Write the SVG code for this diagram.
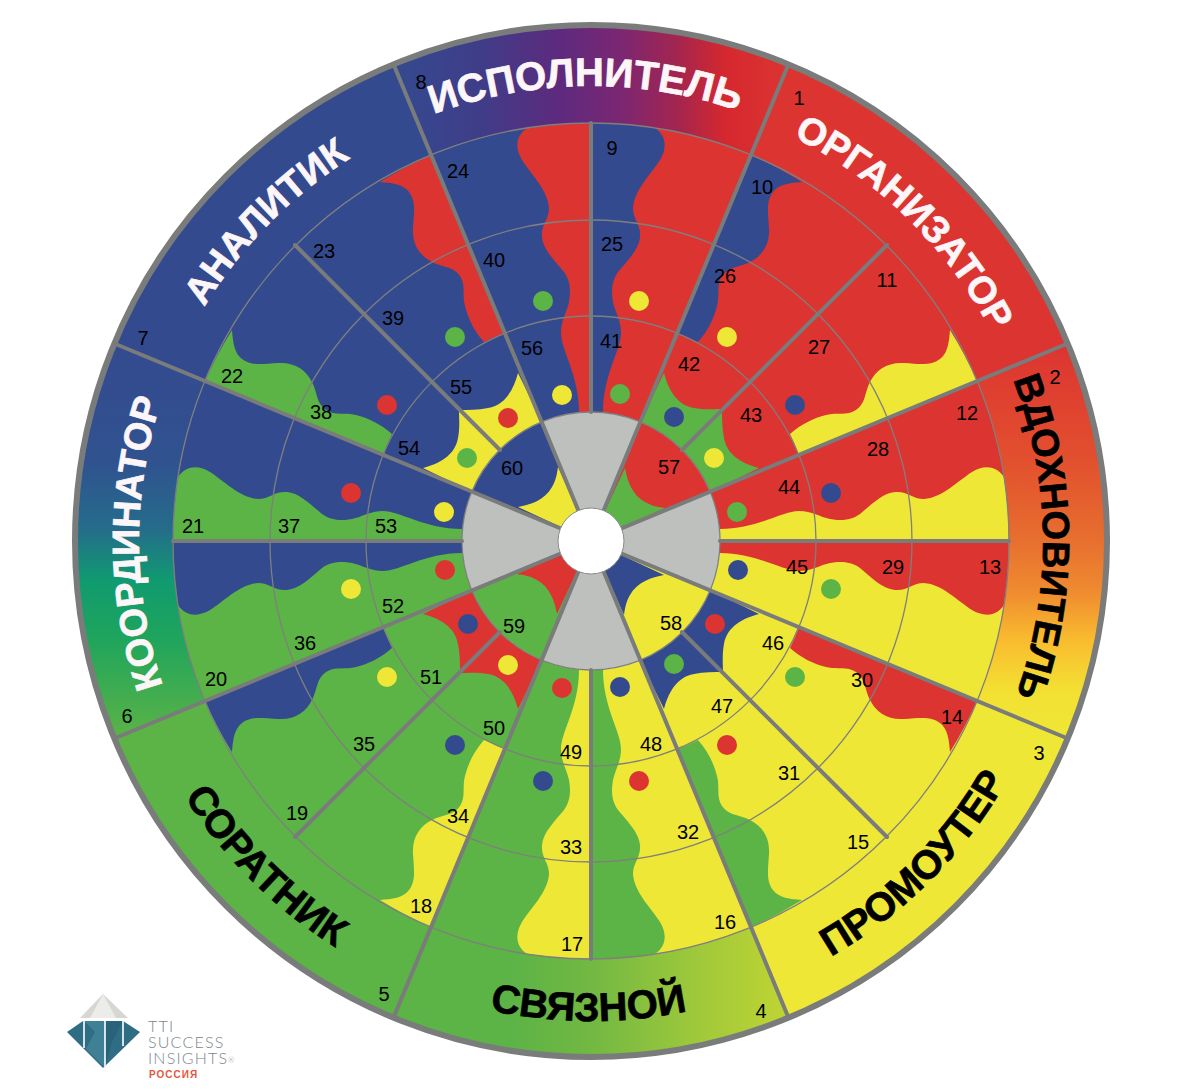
<svg xmlns="http://www.w3.org/2000/svg" width="1200" height="1090" viewBox="0 0 1200 1090">
<style>
.u0{--m:#dc3431;--c1:#344a8f;--c2:#eee736;--c3:#5cb346}
.u1{--m:#eee736;--c1:#dc3431;--c2:#5cb346;--c3:#344a8f}
.u2{--m:#5cb346;--c1:#eee736;--c2:#344a8f;--c3:#dc3431}
.u3{--m:#344a8f;--c1:#5cb346;--c2:#dc3431;--c3:#eee736}
.m{fill:var(--m)}.c1{fill:var(--c1)}.c2{fill:var(--c2)}.c3{fill:var(--c3)}
.ring{fill:none;stroke:#7f7f7f;stroke-width:1.3}
.spoke{stroke:#7a7b7b;stroke-width:4;stroke-linecap:round;fill:none}
.n{font:20px "Liberation Sans",Arial,sans-serif;fill:#000;text-anchor:middle}
.t{font:bold 38px "Liberation Sans",Arial,sans-serif;text-anchor:middle;stroke-width:.7}
.w{fill:#fdf6f8;stroke:#fdf6f8}.b{fill:#000;stroke:#000}
.logo{font:300 16px Lato,"Liberation Sans",sans-serif;letter-spacing:1.2px;fill:#7c868b}
</style>
<defs>
<linearGradient id="gTop" gradientUnits="userSpaceOnUse" x1="393" y1="0" x2="788" y2="0">
<stop offset="0" stop-color="#344a8f"/><stop offset=".22" stop-color="#3f3d88"/><stop offset=".42" stop-color="#5d2a7e"/><stop offset=".58" stop-color="#7c2772"/><stop offset=".72" stop-color="#a3254f"/><stop offset=".84" stop-color="#d5282f"/><stop offset="1" stop-color="#dc3431"/>
</linearGradient>
<linearGradient id="gRight" gradientUnits="userSpaceOnUse" x1="0" y1="343" x2="0" y2="738">
<stop offset="0" stop-color="#dc3431"/><stop offset=".3" stop-color="#e2502e"/><stop offset=".5" stop-color="#e76f2f"/><stop offset=".63" stop-color="#ef8b30"/><stop offset=".75" stop-color="#f9bb2f"/><stop offset=".88" stop-color="#f3e032"/><stop offset="1" stop-color="#eee736"/>
</linearGradient>
<linearGradient id="gBottom" gradientUnits="userSpaceOnUse" x1="393" y1="0" x2="788" y2="0">
<stop offset="0" stop-color="#5cb346"/><stop offset=".3" stop-color="#5cb346"/><stop offset=".5" stop-color="#72b843"/><stop offset=".78" stop-color="#a0c93a"/><stop offset="1" stop-color="#c0d433"/>
</linearGradient>
<linearGradient id="gLeft" gradientUnits="userSpaceOnUse" x1="0" y1="343" x2="0" y2="738">
<stop offset="0" stop-color="#344a8f"/><stop offset=".3" stop-color="#30528f"/><stop offset=".47" stop-color="#256c8b"/><stop offset=".6" stop-color="#109a70"/><stop offset=".75" stop-color="#1fa55c"/><stop offset="1" stop-color="#5cb346"/>
</linearGradient>
<path id="waveA" d="M591 123A418 418 0 0 1 655 128C668 137 666 150 660 160C652 173 634 190 633 208C633 220 641 224 640 237C639 250 626 262 618 272C610 283 612 295 613 302C615 312 621 320 621 333C621 350 603 375 603 412L591 412Z"/>
<path id="waveB" d="M751 155A418 418 0 0 1 802 182C790 183 779 184 773 192C766 201 768 212 769 228C770 245 762 256 750 262C738 268 729 266 722 276C716 285 720 295 717 306C714 318 708 331 698 342A225 225 0 0 0 677 333Z"/>
<g id="unit">
<path class="m" d="M591 412L591 123A418 418 0 0 1 1009 541L720 541A129 129 0 0 0 591 412Z"/>
<use href="#waveA" class="c1"/>
<use href="#waveA" class="c2" transform="matrix(0 -1 -1 0 1132 1132)"/>
<use href="#waveB" class="c1"/>
<use href="#waveB" class="c2" transform="matrix(0 -1 -1 0 1132 1132)"/>
<path class="c3" d="M664 373C668 388 676 405 694 408C704 410 714 409 722 409C722 418 722 428 724 438C727 456 744 464 759 468L710 492A129 129 0 0 0 640 422Z"/>
<path class="m" d="M640 422A129 129 0 0 1 710 492L591 541Z"/>
<path class="c3" d="M625 468C627 480 632 495 645 502C652 506 658 507 665 508L591 541Z"/>
<circle class="c2" cx="639" cy="301" r="10"/>
<circle class="c2" cx="727" cy="337" r="10"/>
<circle class="c2" cx="714" cy="458" r="10"/>
<circle class="c1" cx="795" cy="405" r="10"/>
<circle class="c1" cx="831" cy="493" r="10"/>
<circle class="c1" cx="674" cy="417" r="10"/>
<circle class="c3" cx="737" cy="512" r="10"/>
<circle class="c3" cx="620" cy="394" r="10"/>
</g>
<path id="grey" d="M542 422A129 129 0 0 1 640 422L591 541Z" fill="#bec0bd"/>
<path id="arcTop" d="M199.6 315A452 452 0 0 1 982.4 315"/>
<path id="arcBottom" d="M175.3 781A480 480 0 0 0 1006.7 781"/>
</defs>
<rect width="1200" height="1090" fill="#fff"/>
<g id="wheel">
<use href="#unit" class="u0"/>
<use href="#unit" class="u1" transform="rotate(90 591 541)"/>
<use href="#unit" class="u2" transform="rotate(180 591 541)"/>
<use href="#unit" class="u3" transform="rotate(270 591 541)"/>
<use href="#grey"/>
<use href="#grey" transform="rotate(90 591 541)"/>
<use href="#grey" transform="rotate(180 591 541)"/>
<use href="#grey" transform="rotate(270 591 541)"/>
</g>
<g id="band">
<path fill="url(#gTop)" d="M393.5 64.3A516 516 0 0 1 788.5 64.3L751 155A418 418 0 0 0 431 155Z"/>
<path fill="#dc3431" d="M788.5 64.3A516 516 0 0 1 1067.7 343.5L977 381A418 418 0 0 0 751 155Z"/>
<path fill="url(#gRight)" d="M1067.7 343.5A516 516 0 0 1 1067.7 738.5L977 701A418 418 0 0 0 977 381Z"/>
<path fill="#eee736" d="M1067.7 738.5A516 516 0 0 1 788.5 1017.7L751 927A418 418 0 0 0 977 701Z"/>
<path fill="url(#gBottom)" d="M788.5 1017.7A516 516 0 0 1 393.5 1017.7L431 927A418 418 0 0 0 751 927Z"/>
<path fill="#5cb346" d="M393.5 1017.7A516 516 0 0 1 114.3 738.5L205 701A418 418 0 0 0 431 927Z"/>
<path fill="url(#gLeft)" d="M114.3 738.5A516 516 0 0 1 114.3 343.5L205 381A418 418 0 0 0 205 701Z"/>
<path fill="#344a8f" d="M114.3 343.5A516 516 0 0 1 393.5 64.3L431 155A418 418 0 0 0 205 381Z"/>
</g>
<g id="rings">
<circle class="ring" cx="591" cy="541" r="418"/>
<circle class="ring" cx="591" cy="541" r="321"/>
<circle class="ring" cx="591" cy="541" r="225"/>
<circle class="ring" cx="591" cy="541" r="129"/>
<circle cx="591" cy="541" r="516" fill="none" stroke="#7a7b7b" stroke-width="6"/>
</g>
<g id="connectors">
<path class="spoke" d="M788.5 64.3L393.5 1017.7M1067.7 343.5L114.3 738.5M1067.7 738.5L114.3 343.5M788.5 1017.7L393.5 64.3"/>
<path class="spoke" d="M591 412V123M720 541H1009M591 670V959M462 541H173"/>
<path class="spoke" d="M682 450L887 245M682 632L887 837M500 632L295 837M500 450L295 245"/>
</g>
<circle id="hole" cx="591" cy="541" r="33" fill="#fff" stroke="#8a8a8a" stroke-width="1"/>
<g id="titles">
<text class="t w" style="font-size:40px" transform="rotate(-.7 591 541) translate(0 -3)"><textPath href="#arcTop" startOffset="50%">ИСПОЛНИТЕЛЬ</textPath></text>
<text class="t w" transform="rotate(44.5 591 541)"><textPath href="#arcTop" startOffset="50%">ОРГАНИЗАТОР</textPath></text>
<text class="t b" transform="rotate(89.5 591 541)"><textPath href="#arcTop" startOffset="50%">ВДОХНОВИТЕЛЬ</textPath></text>
<text class="t b" style="font-size:40px" transform="rotate(-45 591 541)"><textPath href="#arcBottom" startOffset="50%">ПРОМОУТЕР</textPath></text>
<text class="t b" style="font-size:40px" transform="rotate(.3 591 541)"><textPath href="#arcBottom" startOffset="50%">СВЯЗНОЙ</textPath></text>
<text class="t b" style="font-size:40px" transform="rotate(45 591 541)"><textPath href="#arcBottom" startOffset="50%">СОРАТНИК</textPath></text>
<text class="t w" transform="rotate(-90.3 591 541)"><textPath href="#arcTop" startOffset="50%">КООРДИНАТОР</textPath></text>
<text class="t w" transform="rotate(-45.5 591 541)"><textPath href="#arcTop" startOffset="50%">АНАЛИТИК</textPath></text>
</g>
<g id="numbers">
<text class="n" x="799" y="105">1</text><text class="n" x="1055" y="384">2</text><text class="n" x="1039" y="760">3</text><text class="n" x="761" y="1018">4</text><text class="n" x="384" y="1001">5</text><text class="n" x="127" y="723">6</text><text class="n" x="143" y="345">7</text><text class="n" x="421" y="89">8</text>
<text class="n" x="612" y="155">9</text><text class="n" x="762" y="194">10</text><text class="n" x="887" y="287">11</text><text class="n" x="967" y="420">12</text><text class="n" x="990" y="574">13</text><text class="n" x="952" y="724">14</text><text class="n" x="858" y="849">15</text><text class="n" x="725" y="929">16</text>
<text class="n" x="572" y="951">17</text><text class="n" x="421" y="913">18</text><text class="n" x="297" y="820">19</text><text class="n" x="216" y="686">20</text><text class="n" x="193" y="533">21</text><text class="n" x="232" y="383">22</text><text class="n" x="324" y="258">23</text><text class="n" x="458" y="178">24</text>
<text class="n" x="612" y="251">25</text><text class="n" x="725" y="283">26</text><text class="n" x="819" y="354">27</text><text class="n" x="878" y="456">28</text><text class="n" x="893" y="574">29</text><text class="n" x="862" y="687">30</text><text class="n" x="789" y="780">31</text><text class="n" x="688" y="839">32</text>
<text class="n" x="571" y="854">33</text><text class="n" x="458" y="823">34</text><text class="n" x="364" y="751">35</text><text class="n" x="305" y="650">36</text><text class="n" x="289" y="533">37</text><text class="n" x="321" y="419">38</text><text class="n" x="393" y="325">39</text><text class="n" x="494" y="267">40</text>
<text class="n" x="611" y="348">41</text><text class="n" x="689" y="371">42</text><text class="n" x="751" y="422">43</text><text class="n" x="789" y="494">44</text><text class="n" x="797" y="574">45</text><text class="n" x="773" y="650">46</text><text class="n" x="722" y="713">47</text><text class="n" x="651" y="751">48</text>
<text class="n" x="571" y="759">49</text><text class="n" x="494" y="735">50</text><text class="n" x="431" y="684">51</text><text class="n" x="393" y="613">52</text><text class="n" x="386" y="533">53</text><text class="n" x="409" y="455">54</text><text class="n" x="461" y="394">55</text><text class="n" x="532" y="355">56</text>
<text class="n" x="669" y="474">57</text><text class="n" x="671" y="630">58</text><text class="n" x="514" y="633">59</text><text class="n" x="512" y="475">60</text>
</g>
<g id="logo">
<path d="M103 994L128 1018H80Z" fill="#d6d6d2"/>
<path d="M103 994L116 1018H90Z" fill="#ecece9"/>
<path d="M83 1021H123L140 1032L103 1068L67 1032Z" fill="#2f6d84"/>
<path d="M84 1021H105V1068L86 1049L95 1032Z" fill="#3f8095"/>
<path d="M105 1021H123L112 1042L105 1068Z" fill="#28637a"/>
<path d="M84 1021V1048M105 1021V1068M123 1021V1046" stroke="#fff" stroke-width="1.6" fill="none"/>
<text class="logo" x="148" y="1032">TTI</text>
<text class="logo" x="148" y="1048">SUCCESS</text>
<text class="logo" x="148" y="1064">INSIGHTS<tspan font-size="7" dy="-1">®</tspan></text>
<text x="149" y="1078" font-family="'Liberation Sans',sans-serif" font-weight="700" font-size="10" letter-spacing="1" fill="#e4573d">РОССИЯ</text>
</g>
</svg>
